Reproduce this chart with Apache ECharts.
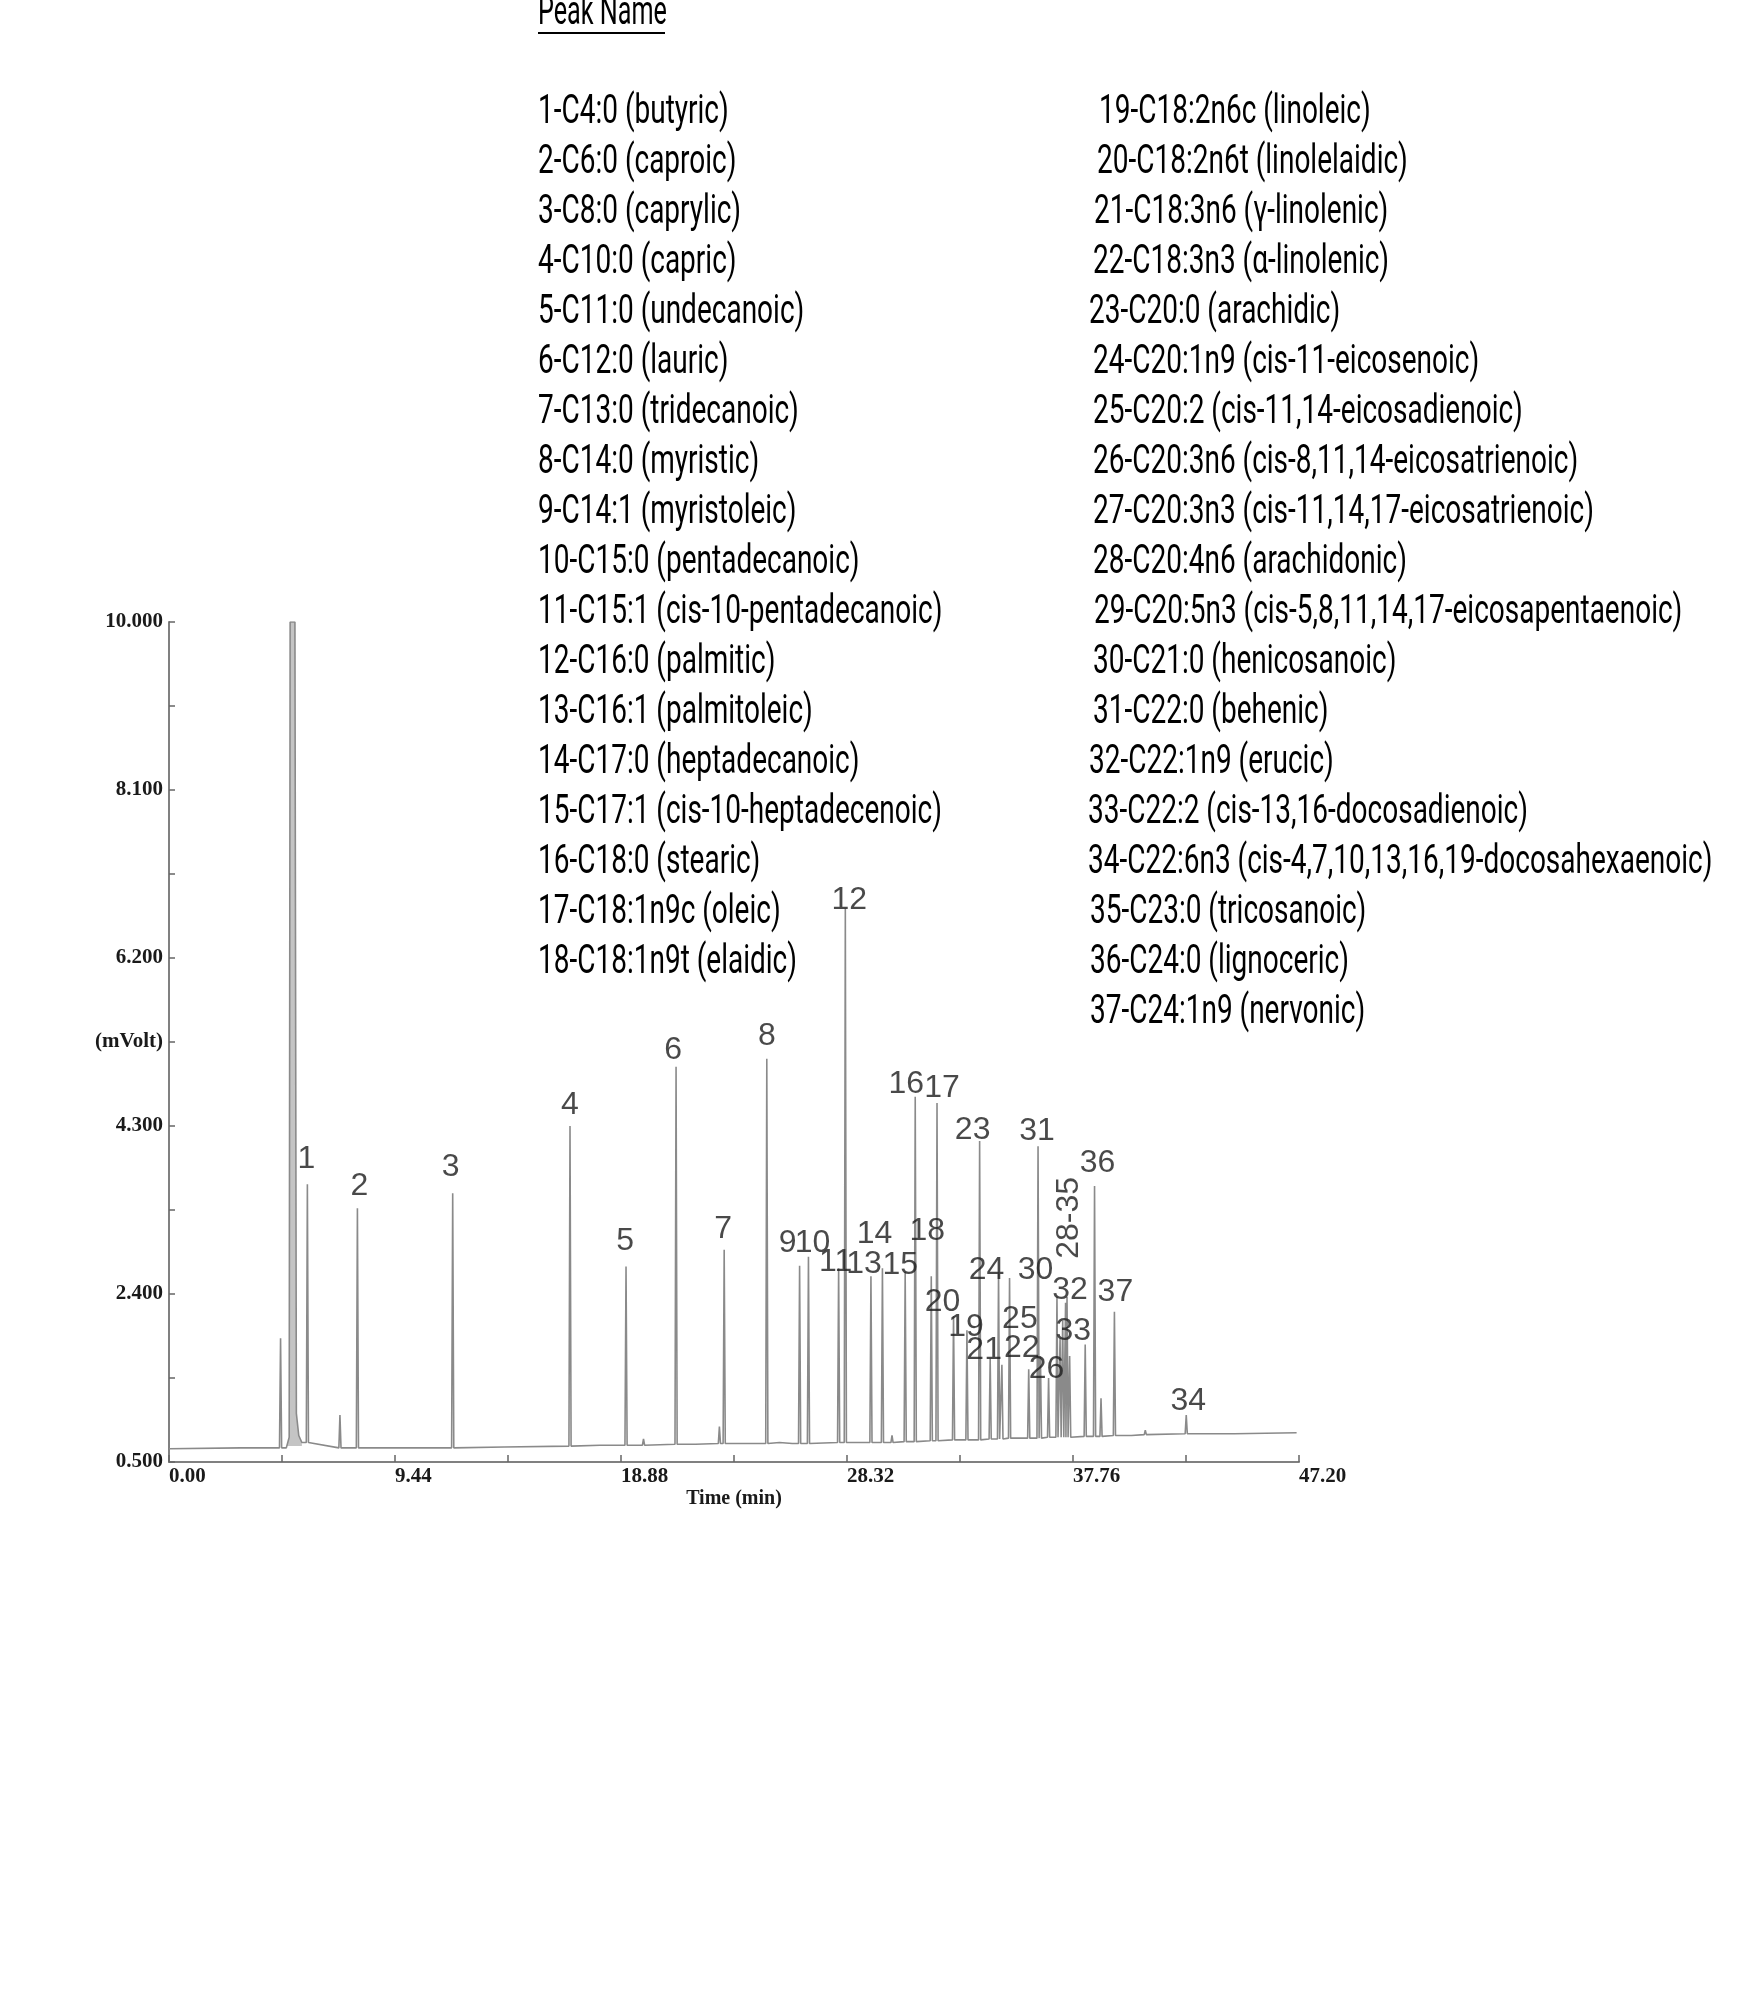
<!DOCTYPE html>
<html><head><meta charset="utf-8">
<script src="https://cdn.jsdelivr.net/npm/echarts@6/dist/echarts.min.js"></script>
<style>html,body{margin:0;padding:0;background:#fff}#c{width:1750px;height:2000px}</style>
</head><body><div id="c"></div>
<script>
// ---- data ----
const peakTimes   = [4.66, 5.78, 7.14, 7.87, 11.85, 16.75, 19.09, 19.82, 21.18, 22.99, 23.19, 24.97, 26.08, 26.34, 26.71, 27.97, 28.25, 29.32, 29.80, 30.20, 30.75, 31.17, 31.84, 32.08, 32.77, 33.33, 33.86, 34.30, 34.65, 34.79, 35.11, 35.91, 36.30, 36.40, 36.74, 37.09, 37.22, 37.33, 37.45, 37.51, 37.62, 38.27, 38.66, 38.93, 39.49, 40.78, 42.49];
const peakHeights = [1.90, 3.64, 1.03, 3.37, 3.54, 4.30, 2.71, 0.76, 4.97, 0.90, 2.90, 5.06, 0.73, 2.72, 2.82, 2.69, 6.76, 2.60, 2.69, 0.80, 2.65, 4.63, 2.60, 4.56, 2.15, 1.99, 4.13, 1.67, 2.65, 1.60, 2.58, 1.55, 4.07, 1.70, 1.45, 2.37, 1.90, 2.10, 2.30, 2.37, 1.70, 1.83, 3.62, 1.22, 2.20, 0.86, 1.03];
const peakBases   = [0.66, 0.72, 0.66, 0.66, 0.66, 0.68, 0.69, 0.69, 0.70, 0.71, 0.71, 0.71, 0.71, 0.71, 0.71, 0.72, 0.72, 0.72, 0.72, 0.72, 0.73, 0.73, 0.74, 0.74, 0.75, 0.75, 0.75, 0.76, 0.76, 0.76, 0.77, 0.77, 0.77, 0.77, 0.78, 0.78, 0.78, 0.78, 0.78, 0.78, 0.78, 0.79, 0.79, 0.79, 0.80, 0.81, 0.82];
const peakLabels  = ['', '1', '', '2', '3', '4', '5', '', '6', '', '7', '8', '', '9', '10', '11', '12', '13', '14', '', '15', '16', '18', '17', '20', '19', '23', '21', '24', '25', '30', '22', '31', '', '26', '32', '', '', '28-35', '', '', '33', '36', '', '37', '', '34'];
const baselinePoints = [[0, 0.65], [3.0, 0.66], [9.5, 0.66], [14.0, 0.67], [18.0, 0.69], [22.0, 0.70], [25.5, 0.72], [40.2, 0.80], [44.5, 0.82], [47.1, 0.83]];
const solventTrace = [[4.90, 0.66], [5.02, 0.78], [5.06, 10.0], [5.26, 10.0], [5.32, 1.05], [5.42, 0.80], [5.55, 0.72]];

const xTickValues = [0, 4.72, 9.44, 14.16, 18.88, 23.6, 28.32, 33.04, 37.76, 42.48, 47.2];
const xLabelValues = [0, 9.44, 18.88, 28.32, 37.76, 47.2];
const xTickLabels = ['0.00', '9.44', '18.88', '28.32', '37.76', '47.20'];
const yTickValues = [0.5, 1.45, 2.4, 3.35, 4.3, 5.25, 6.2, 7.15, 8.1, 9.05, 10.0];
const yLabelValues = [0.5, 2.4, 4.3, 5.25, 6.2, 8.1, 10.0];
const yTickLabels = ['0.500', '2.400', '4.300', '(mVolt)', '6.200', '8.100', '10.000'];

const peakNamesCol1 = ['1-C4:0 (butyric)', '2-C6:0 (caproic)', '3-C8:0 (caprylic)', '4-C10:0 (capric)', '5-C11:0 (undecanoic)', '6-C12:0 (lauric)', '7-C13:0 (tridecanoic)', '8-C14:0 (myristic)', '9-C14:1 (myristoleic)', '10-C15:0 (pentadecanoic)', '11-C15:1 (cis-10-pentadecanoic)', '12-C16:0 (palmitic)', '13-C16:1 (palmitoleic)', '14-C17:0 (heptadecanoic)', '15-C17:1 (cis-10-heptadecenoic)', '16-C18:0 (stearic)', '17-C18:1n9c (oleic)', '18-C18:1n9t (elaidic)'];
const peakNamesCol2 = ['19-C18:2n6c (linoleic)', '20-C18:2n6t (linolelaidic)', '21-C18:3n6 (γ-linolenic)', '22-C18:3n3 (α-linolenic)', '23-C20:0 (arachidic)', '24-C20:1n9 (cis-11-eicosenoic)', '25-C20:2 (cis-11,14-eicosadienoic)', '26-C20:3n6 (cis-8,11,14-eicosatrienoic)', '27-C20:3n3 (cis-11,14,17-eicosatrienoic)', '28-C20:4n6 (arachidonic)', '29-C20:5n3 (cis-5,8,11,14,17-eicosapentaenoic)', '30-C21:0 (henicosanoic)', '31-C22:0 (behenic)', '32-C22:1n9 (erucic)', '33-C22:2 (cis-13,16-docosadienoic)', '34-C22:6n3 (cis-4,7,10,13,16,19-docosahexaenoic)', '35-C23:0 (tricosanoic)', '36-C24:0 (lignoceric)', '37-C24:1n9 (nervonic)'];

// ---- layout / style ----
const labelOffsets = {
  '1':[-1,-25],'2':[2,-22],'3':[-2,-26],'4':[0,-21],'5':[-1,-25],'6':[-3,-17],'7':[-1,-21],'8':[0,-23],
  '9':[-12,-23],'10':[4,-14],'11':[-3,-6],'12':[4,-8],'13':[-7,-12],'14':[-8,-34],'15':[-5,-7],
  '16':[-9,-13],'17':[5,-15],'18':[-4,-45],'20':[-11,-14],'19':[-1,-3],'23':[-7,-11],'21':[-6,-8],
  '24':[-12,-2],'30':[26,-8],'25':[18,-46],'22':[-7,-21],'31':[-1,-15],'26':[-2,-9],'32':[13,-6],
  '33':[-12,-13],'36':[3,-23],'37':[1,-20],'34':[2,-14],
  '28-35':[85,4]   // rotated label: offset is given in the label's rotated frame
};
const HALF = 0.045;
const col1X = 538;
const col2X = [1099,1097,1094,1093,1089,1093,1093,1093,1093,1093,1094,1093,1093,1089,1088,1088,1090,1090,1090];
const rowY0 = 113, rowStep = 50;
const LEG_FONT = 40, LEG_SCALE = 0.70, TITLE_SCALE = 0.63;

// build trace
let trace = baselinePoints.map(p => p.slice()).concat(solventTrace.map(p => p.slice()));
peakTimes.forEach((t, i) => {
  trace.push([t - HALF, peakBases[i]], [t, peakHeights[i]], [t + HALF, peakBases[i]]);
});
trace.sort((a, b) => a[0] - b[0]);

const labelData = [];
peakTimes.forEach((t, i) => {
  const lab = peakLabels[i];
  if (!lab) return;
  labelData.push({
    value: [t, peakHeights[i]],
    label: {
      show: true, formatter: lab, position: 'inside',
      offset: labelOffsets[lab] || [0, -20],
      rotate: lab === '28-35' ? 90 : 0
    }
  });
});

const graphics = [];
graphics.push({ type: 'text', x: col1X, y: 14, scaleX: TITLE_SCALE,
  style: { text: 'Peak Name', x: 0, y: 0, font: LEG_FONT + 'px Roboto', fill: '#000', verticalAlign: 'middle', align: 'left' } });
graphics.push({ type: 'line', shape: { x1: col1X, y1: 33, x2: col1X + 127, y2: 33 }, style: { stroke: '#000', lineWidth: 2 } });
peakNamesCol1.forEach((s, i) => {
  graphics.push({ type: 'text', x: col1X, y: rowY0 + i * rowStep, scaleX: LEG_SCALE,
    style: { text: s, x: 0, y: 0, font: LEG_FONT + 'px Roboto', fill: '#000', verticalAlign: 'middle', align: 'left' } });
});
peakNamesCol2.forEach((s, i) => {
  graphics.push({ type: 'text', x: col2X[i], y: rowY0 + i * rowStep, scaleX: LEG_SCALE,
    style: { text: s, x: 0, y: 0, font: LEG_FONT + 'px Roboto', fill: '#000', verticalAlign: 'middle', align: 'left' } });
});

const axisFont = { fontFamily: 'Liberation Serif', fontWeight: 'bold', fontSize: 21, color: '#1a1a1a' };

const chart = echarts.init(document.getElementById('c'), null, { renderer: 'canvas' });
chart.setOption({
  animation: false,
  backgroundColor: '#fff',
  grid: { left: 169, right: 451, top: 622, bottom: 538 },
  xAxis: {
    type: 'value', min: 0, max: 47.2,
    name: 'Time (min)', nameLocation: 'middle', nameGap: 27,
    nameTextStyle: Object.assign({}, axisFont, { fontSize: 20 }),
    axisLine: { show: true, onZero: false, lineStyle: { color: '#808080', width: 2 } },
    axisTick: { show: true, inside: true, length: 7, customValues: xTickValues, lineStyle: { color: '#666', width: 1.5 } },
    axisLabel: Object.assign({ customValues: xLabelValues, align: 'left', margin: 4,
      formatter: v => xTickLabels[xLabelValues.findIndex(x => Math.abs(x - v) < 1e-6)] || '' }, axisFont),
    splitLine: { show: false }
  },
  yAxis: {
    type: 'value', min: 0.5, max: 10,
    axisLine: { show: true, onZero: false, lineStyle: { color: '#808080', width: 2 } },
    axisTick: { show: true, inside: true, length: 6, customValues: yTickValues, lineStyle: { color: '#666', width: 1.5 } },
    axisLabel: Object.assign({ customValues: yLabelValues, margin: 6,
      formatter: v => yTickLabels[yLabelValues.findIndex(x => Math.abs(x - v) < 1e-6)] || '' }, axisFont),
    splitLine: { show: false }
  },
  series: [
    {
      type: 'line', name: 'solvent', data: solventTrace, showSymbol: false, silent: true,
      lineStyle: { width: 0 }, areaStyle: { color: '#c4c4c4', opacity: 1, origin: 0.68 }, z: 1
    },
    {
      type: 'line', name: 'trace', data: trace, showSymbol: false, silent: true,
      lineStyle: { color: '#8a8a8a', width: 1.6 }, z: 2
    },
    {
      type: 'scatter', name: 'labels', data: labelData, symbolSize: 1, silent: true,
      itemStyle: { color: 'rgba(0,0,0,0)' },
      label: { show: true, color: '#1c1c1c', fontFamily: 'Liberation Sans', fontSize: 32,
        align: 'center', verticalAlign: 'middle' }, z: 3
    }
  ],
  graphic: graphics
});
</script></body></html>
